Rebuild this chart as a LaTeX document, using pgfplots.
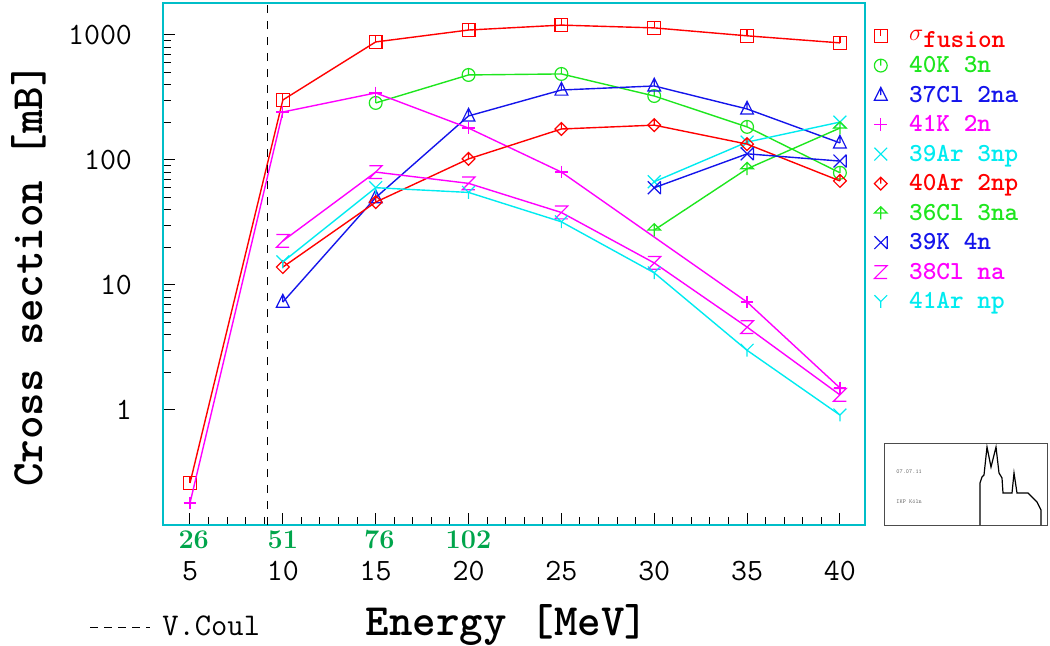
\documentclass[border=0pt]{standalone}
\usepackage{pgfplots}
\pgfplotsset{compat=1.18}

\definecolor{framec}{RGB}{0,190,200}
\definecolor{cred}{RGB}{255,0,0}
\definecolor{cgreen}{RGB}{30,230,30}
\definecolor{cblue}{RGB}{20,20,235}
\definecolor{cmag}{RGB}{255,0,255}
\definecolor{ccyan}{RGB}{0,235,240}
\definecolor{labgreen}{RGB}{0,165,75}

% marks of the original program
\pgfdeclareplotmark{sqt}{%
  \pgfpathrectangle{\pgfpoint{-\pgfplotmarksize}{-\pgfplotmarksize}}{\pgfpoint{2\pgfplotmarksize}{2\pgfplotmarksize}}%
  \pgfpathmoveto{\pgfpoint{0pt}{\pgfplotmarksize}}\pgfpathlineto{\pgfpointorigin}%
  \pgfusepathqstroke}
\pgfdeclareplotmark{cit}{%
  \pgfpathcircle{\pgfpointorigin}{\pgfplotmarksize}%
  \pgfpathmoveto{\pgfpoint{0pt}{\pgfplotmarksize}}\pgfpathlineto{\pgfpointorigin}%
  \pgfusepathqstroke}
\pgfdeclareplotmark{trit}{%
  \pgfpathmoveto{\pgfpoint{0pt}{1.2\pgfplotmarksize}}%
  \pgfpathlineto{\pgfpoint{-\pgfplotmarksize}{-0.8\pgfplotmarksize}}%
  \pgfpathlineto{\pgfpoint{\pgfplotmarksize}{-0.8\pgfplotmarksize}}%
  \pgfpathclose
  \pgfpathmoveto{\pgfpoint{0pt}{1.2\pgfplotmarksize}}\pgfpathlineto{\pgfpointorigin}%
  \pgfusepathqstroke}
\pgfdeclareplotmark{dit}{%
  \pgfpathmoveto{\pgfpoint{0pt}{\pgfplotmarksize}}%
  \pgfpathlineto{\pgfpoint{\pgfplotmarksize}{0pt}}%
  \pgfpathlineto{\pgfpoint{0pt}{-\pgfplotmarksize}}%
  \pgfpathlineto{\pgfpoint{-\pgfplotmarksize}{0pt}}%
  \pgfpathclose
  \pgfpathmoveto{\pgfpoint{0pt}{\pgfplotmarksize}}\pgfpathlineto{\pgfpointorigin}%
  \pgfusepathqstroke}
\pgfdeclareplotmark{arr}{%
  \pgfpathmoveto{\pgfpoint{-\pgfplotmarksize}{0pt}}%
  \pgfpathlineto{\pgfpoint{0pt}{\pgfplotmarksize}}%
  \pgfpathlineto{\pgfpoint{\pgfplotmarksize}{0pt}}%
  \pgfpathclose
  \pgfpathmoveto{\pgfpoint{0pt}{\pgfplotmarksize}}\pgfpathlineto{\pgfpoint{0pt}{-\pgfplotmarksize}}%
  \pgfusepathqstroke}
\pgfdeclareplotmark{xx}{%
  \pgfpathmoveto{\pgfpoint{-\pgfplotmarksize}{-\pgfplotmarksize}}\pgfpathlineto{\pgfpoint{\pgfplotmarksize}{\pgfplotmarksize}}%
  \pgfpathmoveto{\pgfpoint{-\pgfplotmarksize}{\pgfplotmarksize}}\pgfpathlineto{\pgfpoint{\pgfplotmarksize}{-\pgfplotmarksize}}%
  \pgfusepathqstroke}
\pgfdeclareplotmark{xb}{%
  \pgfpathmoveto{\pgfpoint{-\pgfplotmarksize}{-\pgfplotmarksize}}\pgfpathlineto{\pgfpoint{\pgfplotmarksize}{\pgfplotmarksize}}%
  \pgfpathmoveto{\pgfpoint{-\pgfplotmarksize}{\pgfplotmarksize}}\pgfpathlineto{\pgfpoint{\pgfplotmarksize}{-\pgfplotmarksize}}%
  \pgfpathmoveto{\pgfpoint{\pgfplotmarksize}{-\pgfplotmarksize}}\pgfpathlineto{\pgfpoint{\pgfplotmarksize}{\pgfplotmarksize}}%
  \pgfusepathqstroke}
\pgfdeclareplotmark{zm}{%
  \pgfpathmoveto{\pgfpoint{-\pgfplotmarksize}{\pgfplotmarksize}}%
  \pgfpathlineto{\pgfpoint{\pgfplotmarksize}{\pgfplotmarksize}}%
  \pgfpathlineto{\pgfpoint{-\pgfplotmarksize}{-\pgfplotmarksize}}%
  \pgfpathlineto{\pgfpoint{\pgfplotmarksize}{-\pgfplotmarksize}}%
  \pgfusepathqstroke}
\pgfdeclareplotmark{ym}{%
  \pgfpathmoveto{\pgfpoint{-\pgfplotmarksize}{\pgfplotmarksize}}%
  \pgfpathlineto{\pgfpointorigin}%
  \pgfpathlineto{\pgfpoint{\pgfplotmarksize}{\pgfplotmarksize}}%
  \pgfpathmoveto{\pgfpointorigin}\pgfpathlineto{\pgfpoint{0pt}{-\pgfplotmarksize}}%
  \pgfusepathqstroke}

\tikzset{labnum/.style={labgreen, font=\rmfamily\bfseries\fontsize{13.5}{14}\selectfont}}

\begin{document}
\ttfamily
\begin{tikzpicture}
\useasboundingbox (0,0) rectangle (525pt,322.5pt);
\begin{axis}[
  at={(81.5pt,60pt)}, anchor=south west,
  scale only axis, width=351pt, height=261pt,
  clip mode=individual,
  ymode=log,
  xmin=3.546, xmax=41.35, ymin=0.12, ymax=1803,
  xtick={5,10,...,40}, minor x tick num=4,
  ytick={1,10,100,1000}, yticklabels={1,10,100,1000},
  tick align=inside, xtick pos=bottom, ytick pos=left,
  axis line style={framec, line width=1.1pt},
  tick style={black, line width=0.5pt},
  major tick length=6pt, minor tick length=4pt,
  ticklabel style={font=\ttfamily\fontsize{15.5}{16}\selectfont},
  /pgf/number format/assume math mode=true,
  yticklabel style={xshift=-12pt},
  xticklabel style={yshift=-14.5pt},
  xlabel={Energy [MeV]}, ylabel={Cross section [mB]},
  label style={font=\ttfamily\bfseries\fontsize{22.4}{24}\selectfont},
  xlabel style={at={(axis description cs:0.49,-0.2126)}, anchor=base},
  ylabel style={at={(axis description cs:-0.172,0.479)}, anchor=base, rotate=0},
  legend style={at={(axis description cs:1.0128,0.958)}, anchor=north west,
    draw=none, fill=none, inner sep=0pt,
    font=\ttfamily\bfseries\fontsize{13}{14}\selectfont,
    nodes={inner sep=0pt, text height=9pt, text depth=5.75pt},
    /tikz/every odd column/.append style={column sep=11pt}},
  legend cell align=left,
  legend image code/.code={\draw[#1,only marks] plot coordinates {(0pt,2pt)};},
  every axis plot/.append style={line width=0.7pt, mark size=3.2pt, mark options={line width=0.6pt}},
]
\addplot[cred, mark=sqt] coordinates {(5,0.26) (10,302) (15,880) (20,1096) (25,1200) (30,1140) (35,985) (40,865)};
\addlegendentry{\textcolor{cred}{\raisebox{1.5pt}{\mdseries$\sigma$}\raisebox{-2pt}{fusion}}}
\addplot[cgreen, mark=cit] coordinates {(15,286) (20,479) (25,488) (30,325) (35,184) (40,79)};
\addlegendentry{\textcolor{cgreen}{40K 3n}}
\addplot[cblue, mark=trit] coordinates {(10,7.3) (15,50) (20,225) (25,363) (30,391) (35,256) (40,137)};
\addlegendentry{\textcolor{cblue}{37Cl 2na}}
\addplot[cmag, mark=+] coordinates {(5,0.18) (10,242) (15,344) (20,180) (25,80) (35,7.3) (40,1.5)};
\addlegendentry{\textcolor{cmag}{41K 2n}}
\addplot[ccyan, mark=xx] coordinates {(30,67) (35,139) (40,201)};
\addlegendentry{\textcolor{ccyan}{39Ar 3np}}
\addplot[cred, mark=dit] coordinates {(10,13.9) (15,46) (20,102) (25,177) (30,190) (35,134) (40,68)};
\addlegendentry{\textcolor{cred}{40Ar 2np}}
\addplot[cgreen, mark=arr] coordinates {(30,27.5) (35,85) (40,180)};
\addlegendentry{\textcolor{cgreen}{36Cl 3na}}
\addplot[cblue, mark=xb] coordinates {(30,60) (35,112) (40,98)};
\addlegendentry{\textcolor{cblue}{39K 4n}}
\addplot[cmag, mark=zm] coordinates {(10,22.5) (15,80) (20,65) (25,38) (30,15) (35,4.6) (40,1.32)};
\addlegendentry{\textcolor{cmag}{38Cl na}}
\addplot[ccyan, mark=ym] coordinates {(10,15.3) (15,60) (20,55) (25,32) (30,12.5) (35,3.0) (40,0.91)};
\addlegendentry{\textcolor{ccyan}{41Ar np}}
% Coulomb barrier
\addplot[black, line width=0.5pt, dash pattern=on 4pt off 4pt, mark=none, forget plot] coordinates {(9.2,0.12) (9.2,1803)};
% lab energies
\node[labnum] at ([yshift=-7.5pt]axis cs:5.2,0.12) {26};
\node[labnum] at ([yshift=-7.5pt]axis cs:10,0.12) {51};
\node[labnum] at ([yshift=-7.5pt]axis cs:15.2,0.12) {76};
\node[labnum] at ([yshift=-7.5pt]axis cs:20,0.12) {102};
\end{axis}
\begin{scope}[x=0.5pt, y=-0.5pt, yshift=322.5pt]
  \draw[black, line width=0.5pt, dash pattern=on 4pt off 3pt] (90,627) -- (150,627);
  \node[anchor=west, inner sep=0pt, font=\ttfamily\fontsize{15.8}{16}\selectfont] at (162,626) {V.Coul};
  % logo
  \draw[black!70, line width=0.5pt] (884,443) rectangle (1047,525);
  \draw[black, line width=0.6pt] (980,525) -- (980,483) -- (982,477) -- (984,475) -- (987,447) -- (991,467)
    -- (996,447) -- (999,473) -- (1002,478) -- (1003,493) -- (1012,493) -- (1014,473) -- (1017,493)
    -- (1028,493) -- (1037,502) -- (1041,510) -- (1041,525);
  \node[anchor=west, inner sep=0pt, black!60, font=\ttfamily\fontsize{3}{3}\selectfont] at (896,472) {07.07.11};
  \node[anchor=west, inner sep=0pt, black!60, font=\ttfamily\fontsize{3}{3}\selectfont] at (896,502) {IKP Köln};
\end{scope}
\end{tikzpicture}
\end{document}
